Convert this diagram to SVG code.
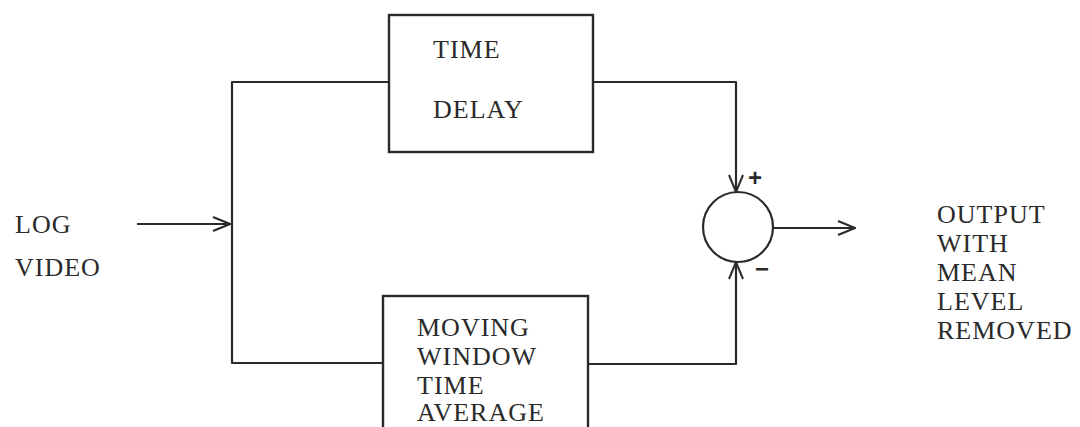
<svg xmlns="http://www.w3.org/2000/svg" width="1080" height="427" viewBox="0 0 1080 427">
<defs>
<style>
.ln{fill:none;stroke:#2a2a2a;stroke-width:2.2;stroke-linejoin:round}
.bx{fill:none;stroke:#2a2a2a;stroke-width:2.4}
.t{font-family:"Liberation Serif","Times New Roman",serif;font-size:26px;letter-spacing:1px;fill:#2a2a2a}
.s{font-family:"Liberation Sans",Arial,sans-serif;font-size:24px;font-weight:bold;fill:#2a2a2a}
</style>
<marker id="ah" viewBox="0 0 20 16" refX="19" refY="8" markerWidth="20" markerHeight="16" markerUnits="userSpaceOnUse" orient="auto">
<path d="M2,1 L19,8 L2,15" fill="none" stroke="#2a2a2a" stroke-width="2"/>
</marker>
</defs>
<rect width="1080" height="427" fill="#ffffff"/>
<g id="connectors">
<line class="ln" x1="137" y1="224" x2="230" y2="224" marker-end="url(#ah)"/>
<polyline class="ln" points="389,82 232,82 232,363 383,363"/>
<polyline class="ln" points="593,82 736,82 736,192" marker-end="url(#ah)"/>
<polyline class="ln" points="588,364 736,364 736,262" marker-end="url(#ah)"/>
<line class="ln" x1="773" y1="228" x2="855" y2="228" marker-end="url(#ah)"/>
</g>
<g id="input-label">
<text class="t" x="15" y="233">LOG</text>
<text class="t" x="15" y="276">VIDEO</text>
</g>
<g id="time-delay">
<rect class="bx" x="389" y="15" width="204" height="137"/>
<text class="t" x="433" y="58">TIME</text>
<text class="t" x="433" y="118">DELAY</text>
</g>
<g id="moving-window">
<rect class="bx" x="383" y="296" width="205" height="160"/>
<text class="t" x="417" y="336">MOVING</text>
<text class="t" x="417" y="365">WINDOW</text>
<text class="t" x="417" y="394">TIME</text>
<text class="t" x="417" y="421">AVERAGE</text>
</g>
<g id="summer">
<circle class="ln" cx="738" cy="227" r="35"/>
<text class="s" x="748" y="186">+</text>
<text class="s" x="755" y="277">−</text>
</g>
<g id="output-label">
<text class="t" x="937" y="223">OUTPUT</text>
<text class="t" x="937" y="252">WITH</text>
<text class="t" x="937" y="281">MEAN</text>
<text class="t" x="937" y="310">LEVEL</text>
<text class="t" x="937" y="339">REMOVED</text>
</g>
</svg>
